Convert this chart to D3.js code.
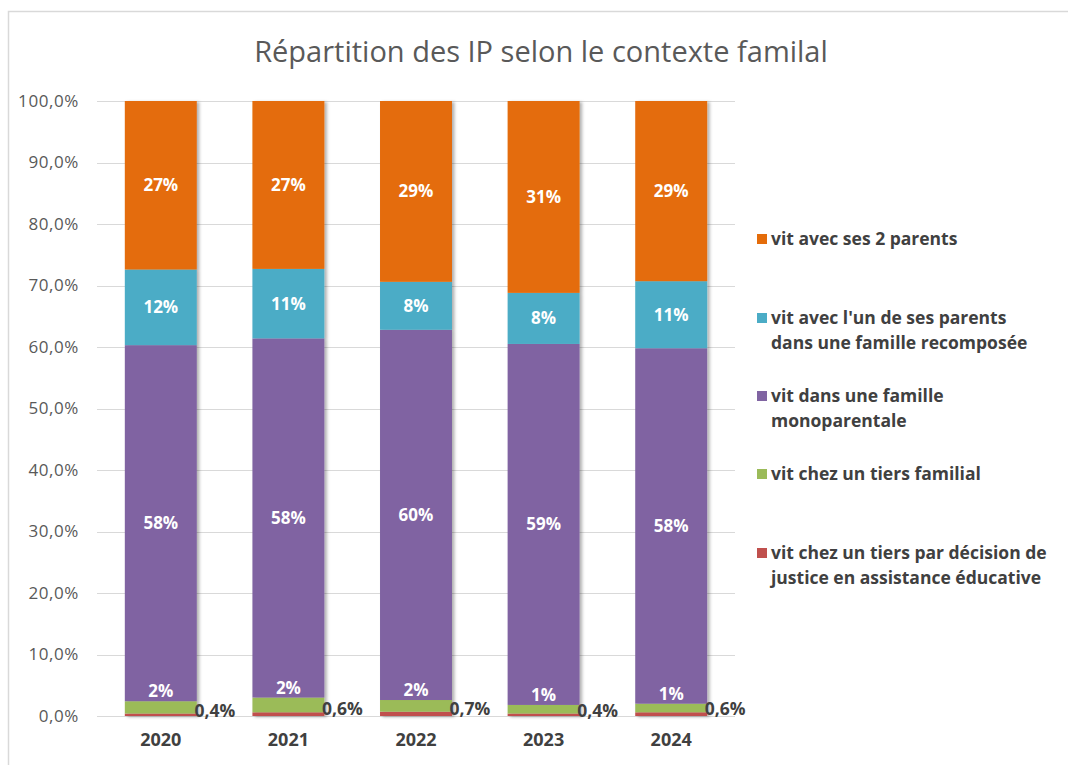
<!DOCTYPE html>
<html lang="fr">
<head>
<meta charset="utf-8">
<script src="https://cdn.jsdelivr.net/npm/d3@7"></script>
<style>
  html, body { margin: 0; padding: 0; background: #fff; }
  svg { display: block; font-family: "Open Sans", "Noto Sans", sans-serif; }
</style>
</head>
<body>
<svg id="chart" width="1068" height="765"></svg>
<script>
// Years on the x axis
const years = ["2020", "2021", "2022", "2023", "2024"];

// Share of each family situation, in % (bottom to top of each stack)
const tiersJustice   = [0.4, 0.6, 0.7, 0.4, 0.6];
const tiersFamilial  = [2.0, 2.4, 1.9, 1.4, 1.4];
const monoparentale  = [57.9, 58.4, 60.2, 58.7, 57.8];
const recomposee     = [12.3, 11.3, 7.8, 8.3, 10.9];
const deuxParents    = [27.4, 27.3, 29.4, 31.2, 29.3];

// Y axis ticks
const yTicks = [0, 10, 20, 30, 40, 50, 60, 70, 80, 90, 100];

const series = [
  { key: "justice",  values: tiersJustice,  color: "#C0504D", label: ["vit chez un tiers par décision de", "justice en assistance éducative"] },
  { key: "familial", values: tiersFamilial, color: "#9BBB59", label: ["vit chez un tiers familial"] },
  { key: "mono",     values: monoparentale, color: "#8064A2", label: ["vit dans une famille", "monoparentale"] },
  { key: "recomp",   values: recomposee,    color: "#4BACC6", label: ["vit avec l'un de ses parents", "dans une famille recomposée"] },
  { key: "deux",     values: deuxParents,   color: "#E46C0A", label: ["vit avec ses 2 parents"] }
];

const rows = years.map((y, i) => {
  const r = { year: y };
  series.forEach(s => r[s.key] = s.values[i]);
  return r;
});

const svg = d3.select("#chart");

// Chart frame
svg.append("path")
  .attr("d", "M8.5,765 V11.5 H1068")
  .attr("fill", "none")
  .attr("stroke", "#d9d9d9")
  .attr("stroke-width", 1.5);

// Bar shadow
const defs = svg.append("defs");
const f = defs.append("filter").attr("id", "shadow")
  .attr("x", "-10%").attr("y", "-5%").attr("width", "130%").attr("height", "115%");
f.append("feDropShadow").attr("dx", 2.5).attr("dy", 1).attr("stdDeviation", 1.5)
  .attr("flood-color", "#000").attr("flood-opacity", 0.3);

const x = d3.scaleBand().domain(years).range([97, 735]).paddingInner(0.436).paddingOuter(0.218);
const y = d3.scaleLinear().domain([0, 100]).range([716, 101]);

// Title
svg.append("text")
  .attr("x", 541).attr("y", 62)
  .attr("text-anchor", "middle")
  .attr("font-size", 29)
  .attr("fill", "#595959")
  .text("Répartition des IP selon le contexte familal");

// Gridlines
svg.append("g")
  .selectAll("line")
  .data(yTicks)
  .join("line")
  .attr("x1", 97).attr("x2", 735)
  .attr("y1", d => Math.round(y(d)) + 0.5)
  .attr("y2", d => Math.round(y(d)) + 0.5)
  .attr("stroke", "#d9d9d9")
  .attr("stroke-width", 1);

// Y axis labels
const fmtAxis = d => d.toFixed(1).replace(".", ",") + "%";
const yAxis = d3.axisLeft(y).tickValues(yTicks).tickFormat(fmtAxis).tickSize(0).tickPadding(0);
svg.append("g")
  .attr("transform", "translate(79,0)")
  .call(yAxis)
  .call(g => g.select(".domain").remove())
  .call(g => g.selectAll("text")
    .attr("font-family", "\"Open Sans\", sans-serif")
    .attr("font-size", 17)
    .attr("letter-spacing", 0.6)
    .attr("fill", "#595959"));

// X axis labels
const xAxis = d3.axisBottom(x).tickSize(0).tickPadding(0);
svg.append("g")
  .attr("transform", "translate(0,733)")
  .call(xAxis)
  .call(g => g.select(".domain").remove())
  .call(g => g.selectAll("text")
    .attr("font-family", "\"Open Sans\", sans-serif")
    .attr("font-size", 18)
    .attr("font-weight", "bold")
    .attr("fill", "#404040"));

// Stacked bars
const stack = d3.stack().keys(series.map(s => s.key));
const stacked = stack(rows);

const barG = svg.append("g").attr("filter", "url(#shadow)");
stacked.forEach((layer, li) => {
  barG.append("g")
    .attr("fill", series[li].color)
    .selectAll("rect")
    .data(layer)
    .join("rect")
    .attr("x", d => x(d.data.year))
    .attr("width", x.bandwidth())
    .attr("y", d => y(d[1]))
    .attr("height", d => y(d[0]) - y(d[1]));
});

// Value labels
const labelG = svg.append("g")
  .attr("font-weight", "bold")
  .attr("font-size", 17);

stacked.forEach((layer, li) => {
  const key = series[li].key;
  layer.forEach(d => {
    const cx = x(d.data.year) + x.bandwidth() / 2;
    const v = d.data[key];
    if (key === "justice") {
      labelG.append("text")
        .attr("x", x(d.data.year) + x.bandwidth() + 18)
        .attr("y", y(d[1]) - 3)
        .attr("dy", "0.35em")
        .attr("text-anchor", "middle")
        .attr("font-size", 17.5)
        .attr("fill", "#404040")
        .text(v.toFixed(1).replace(".", ",") + "%");
    } else if (key === "familial") {
      labelG.append("text")
        .attr("x", cx)
        .attr("y", y(d[1]) - 10)
        .attr("dy", "0.35em")
        .attr("text-anchor", "middle")
        .attr("fill", "#ffffff")
        .text(Math.round(v) + "%");
    } else {
      labelG.append("text")
        .attr("x", cx)
        .attr("y", (y(d[0]) + y(d[1])) / 2)
        .attr("dy", "0.35em")
        .attr("text-anchor", "middle")
        .attr("fill", "#ffffff")
        .text(Math.round(v) + "%");
    }
  });
});

// Legend (top to bottom: orange first)
const legendY = { deux: 239, recomp: 318, mono: 396, familial: 474, justice: 553 };
const legend = svg.append("g")
  .attr("font-size", 17.5)
  .attr("font-weight", "bold")
  .attr("fill", "#404040");
series.slice().reverse().forEach(s => {
  const y0 = legendY[s.key];
  legend.append("rect")
    .attr("x", 757).attr("y", y0 - 5)
    .attr("width", 10).attr("height", 10)
    .attr("fill", s.color);
  s.label.forEach((line, i) => {
    legend.append("text")
      .attr("x", 771)
      .attr("y", y0 + i * 25)
      .attr("dy", "0.35em")
      .text(line);
  });
});
</script>
</body>
</html>
